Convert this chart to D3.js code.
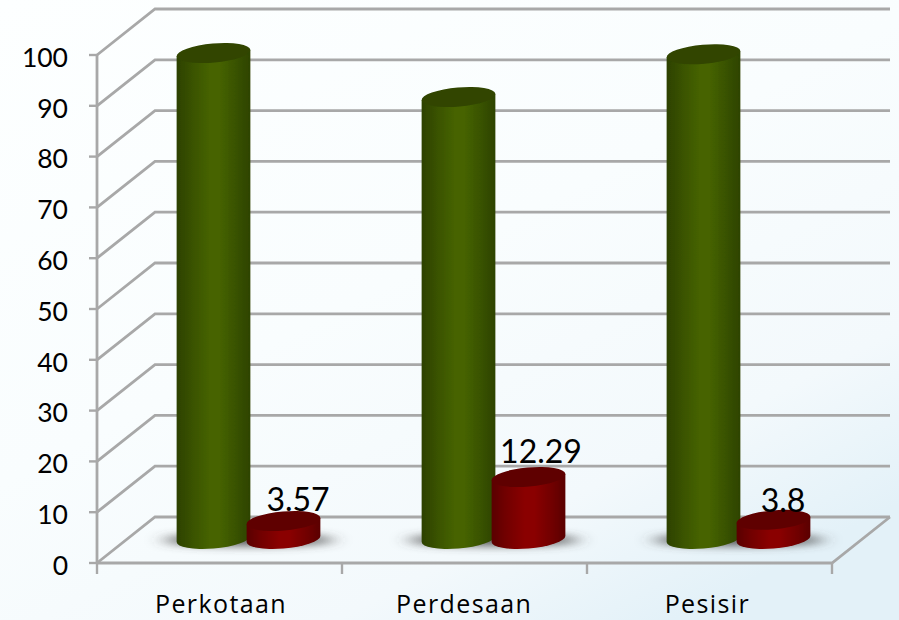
<!DOCTYPE html>
<html><head><meta charset="utf-8">
<script src="https://cdn.jsdelivr.net/npm/d3@7"></script>
<style>html,body{margin:0;padding:0;background:#fff}svg{display:block}</style>
</head><body><svg id="c" width="899" height="620"></svg>
<script>
const categories = ["Perkotaan","Perdesaan","Pesisir"];
const seriesGreen = [96.43,87.71,96.2];
const seriesRed = [3.57,12.29,3.8];
const redLabels = ["3.57","12.29","3.8"];
const yTicks = [0,10,20,30,40,50,60,70,80,90,100];

const W=899,H=620;
const svg=d3.select("#c");
const defs=svg.append("defs");
const bg=defs.append("linearGradient").attr("id","bg").attr("x1",0).attr("y1",0).attr("x2",0.75).attr("y2",1);
[[0,"#fdffff"],[0.5,"#f9fdfe"],[0.82,"#f3f9fc"],[1,"#e3f1f8"]].forEach(s=>bg.append("stop").attr("offset",s[0]).attr("stop-color",s[1]));
function cyl(id,a,b,c){const g=defs.append("linearGradient").attr("id",id);
 [[0,a],[0.18,d3.interpolateRgb(a,b)(.45)],[0.45,b],[0.58,b],[0.85,d3.interpolateRgb(a,b)(.4)],[1,c]].forEach(s=>g.append("stop").attr("offset",s[0]).attr("stop-color",s[1]));}
cyl("gb","#2c4100","#466300","#2e4300");
cyl("rb","#5a0000","#8a0000","#5a0000");
defs.append("filter").attr("id","blur").attr("x","-30%").attr("y","-200%").attr("width","160%").attr("height","500%")
 .append("feGaussianBlur").attr("stdDeviation","9 4");
defs.append("filter").attr("id","soft").append("feGaussianBlur").attr("stdDeviation",0.7);
defs.append("filter").attr("id","soft2").append("feGaussianBlur").attr("stdDeviation",0.4);

svg.append("rect").attr("width",W).attr("height",H).attr("fill","url(#bg)");

const dx=58,dy=-46;
const x=d3.scaleBand().domain(categories).range([97,832]);
const y=d3.scaleLinear().domain([0,100]).range([563,55]);
const gridC="#a8a8a8";
const grid=svg.append("g").attr("filter","url(#soft)").attr("fill","none");
yTicks.forEach(t=>{
  grid.append("path").attr("stroke",gridC).attr("stroke-width",2.8)
   .attr("d",d3.line()([[97,y(t)],[97+dx,y(t)+dy],[x.range()[1]+dx,y(t)+dy]]));
});
grid.append("path").attr("stroke",gridC).attr("stroke-width",2.8)
 .attr("d",d3.line()([[97,563],[832,563],[832+dx,563+dy]]));
grid.append("path").attr("stroke",gridC).attr("stroke-width",2.8).attr("d",d3.line()([[97,y(0)],[97,y(100)]]));
yTicks.forEach(t=>grid.append("path").attr("stroke",gridC).attr("stroke-width",2.4).attr("d",d3.line()([[89,y(t)],[97,y(t)]])));
[0,1,2,3].forEach(i=>{const px=97+i*x.bandwidth();
 grid.append("path").attr("stroke",gridC).attr("stroke-width",2.4).attr("d",d3.line()([[px,563],[px,574]]));});

const rx=37,ry=9.5,tilt=-5;
const t=tilt*Math.PI/180;
const th=Math.atan2(-ry*Math.sin(t),rx*Math.cos(t));
const ex=rx*Math.cos(th)*Math.cos(t)-ry*Math.sin(th)*Math.sin(t);
const ey=rx*Math.cos(th)*Math.sin(t)+ry*Math.sin(th)*Math.cos(t);
const baseOff=24;
function drawBar(cx,v,fill,topFill){
  const by=y(0)-baseOff, h=(y(0)-y(v))*0.992, ty=by-h;
  const g=svg.append("g").attr("filter","url(#soft2)");
  g.append("path").attr("fill",fill).attr("d",
   `M${cx-ex},${ty-ey} L${cx-ex},${by-ey} A${rx},${ry} ${tilt} 0 0 ${cx+ex},${by+ey} L${cx+ex},${ty+ey} Z`);
  g.append("ellipse").attr("cx",cx).attr("cy",ty).attr("rx",rx).attr("ry",ry)
   .attr("transform",`rotate(${tilt} ${cx} ${ty})`).attr("fill",topFill);
}
const shadows=svg.append("g").attr("filter","url(#blur)");
categories.forEach((c,i)=>{
  const mid=x(c)+x.bandwidth()/2+dx/2;
  shadows.append("ellipse").attr("cx",mid).attr("cy",y(0)-baseOff+1).attr("rx",86).attr("ry",6).attr("fill","#4a4a4a").attr("opacity",.9);
});
categories.forEach((c,i)=>{
  const mid=x(c)+x.bandwidth()/2+dx/2;
  drawBar(mid-35,seriesGreen[i],"url(#gb)","#304500");
  drawBar(mid+35,seriesRed[i],"url(#rb)","#5f0000");
  svg.append("text").attr("x",mid+(i==2?44.5:i==1?47.5:49.5)).attr("y",y(0)-baseOff-seriesRed[i]*5-(i==1?15:i==2?8:10))
   .attr("text-anchor","middle").attr("font-family","Lato").attr("font-size",32).attr("fill","#000").text(redLabels[i]);
});
const yAxis=d3.axisLeft(y).tickValues(yTicks).tickSize(0).tickPadding(29);
const ya=svg.append("g").attr("transform","translate(97,2)").call(yAxis);
ya.select(".domain").remove();
ya.selectAll("text").attr("font-family","Lato").attr("font-size",26.5).attr("fill","#000").attr("dy","0.35em");
const xAxis=d3.axisBottom(x).tickSize(0).tickPadding(0);
const xa=svg.append("g").attr("transform","translate(0,612.5)").call(xAxis);
xa.select(".domain").remove();
xa.selectAll("text").attr("font-family","'Open Sans'").attr("font-size",25).attr("letter-spacing",1.4).attr("fill","#000").attr("dy",0).attr("y",0)
  .attr("dx",(d,i)=>1.5-i*1.8);
</script></body></html>
